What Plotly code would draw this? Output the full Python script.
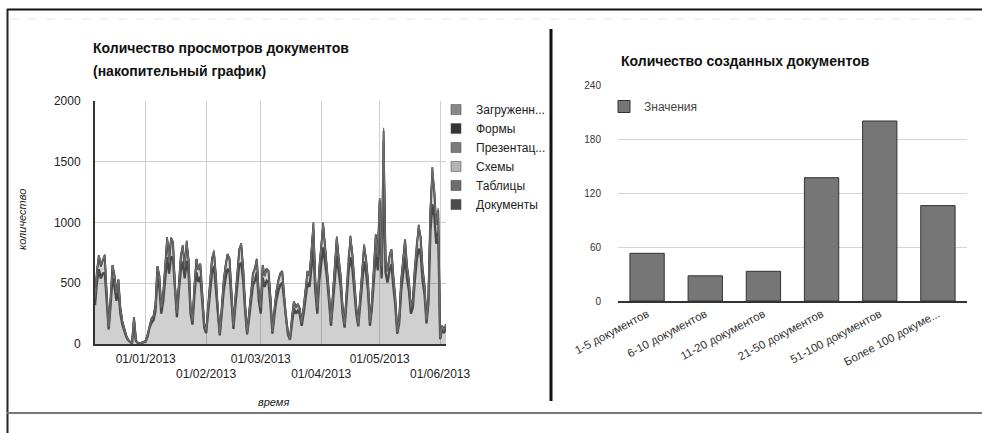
import pandas as pd
import plotly.graph_objects as go

# ---------------- data: daily document views (stacked by type) ----------------
start_day = "2012-12-06"
end_day = "2013-06-04"

docs = [
    # Dec 2012 (6..31)
    320, 505, 615, 540, 580, 585, 355, 120, 320, 545, 470, 355, 445, 250, 160, 100,
    60, 30, 15, 5, 185, 25, 8, 5, 10, 15,
    # Jan 2013
    20, 65, 135, 175, 195, 270, 540, 470, 250, 355, 540, 715, 580, 720, 705, 405,
    220, 435, 605, 680, 540, 685, 580, 250, 160, 405, 590, 510, 555, 355, 135,
    # Feb 2013
    90, 250, 470, 590, 640, 470, 235, 70, 250, 435, 545, 620, 590, 355, 125, 320,
    505, 655, 665, 520, 270, 80, 210, 360, 485, 520, 590, 355,
    # Mar 2013
    250, 545, 470, 520, 505, 320, 85, 235, 360, 435, 485, 505, 355, 170, 75, 35,
    185, 295, 250, 275, 245, 150, 250, 405, 505, 470, 640, 780, 435, 250, 520,
    # Apr 2013
    690, 795, 670, 540, 355, 150, 335, 570, 730, 590, 470, 250, 135, 355, 590, 715,
    620, 435, 250, 145, 335, 545, 680, 590, 435, 150, 295, 520, 755, 605,
    # May 2013
    990, 540, 1390, 590, 505, 605, 655, 470, 320, 85, 170, 435, 590, 720, 540, 435,
    250, 300, 520, 690, 785, 740, 520, 405, 170, 335, 925, 1150, 1050, 825, 925,
    # Jun 2013 (1..4)
    40, 125, 90, 135,
]

tables = [
    # Dec 2012
    60, 95, 115, 100, 110, 120, 65, 20, 60, 105, 90, 65, 85, 50, 30, 20,
    10, 5, 0, 0, 35, 5, 0, 0, 0, 0,
    # Jan 2013
    5, 15, 25, 35, 35, 50, 100, 90, 50, 65, 100, 140, 110, 140, 135, 75,
    40, 85, 115, 130, 100, 135, 110, 50, 30, 75, 110, 100, 105, 65, 25,
    # Feb 2013
    20, 50, 90, 110, 120, 90, 45, 15, 50, 85, 105, 120, 110, 65, 25, 60,
    95, 125, 135, 100, 50, 15, 40, 70, 95, 100, 110, 65,
    # Mar 2013
    50, 105, 90, 100, 95, 60, 15, 45, 70, 85, 95, 95, 65, 30, 15, 5,
    35, 55, 50, 55, 45, 30, 50, 75, 95, 90, 120, 160, 85, 50, 100,
    # Apr 2013
    130, 160, 130, 100, 65, 30, 65, 110, 140, 110, 90, 50, 25, 65, 110, 140,
    120, 85, 50, 25, 65, 105, 130, 110, 85, 30, 55, 100, 145, 115,
    # May 2013
    190, 100, 275, 110, 95, 115, 125, 90, 60, 15, 30, 85, 110, 140, 100, 85,
    50, 60, 100, 130, 155, 140, 100, 75, 30, 65, 175, 230, 200, 155, 175,
    # Jun 2013
    10, 25, 20, 25,
]

# smaller document types: views only on a few days
schemes = {"2013-01-14": 15, "2013-03-28": 20, "2013-05-03": 30, "2013-05-28": 25}
presentations = {
    "2012-12-11": 30, "2013-01-12": 25, "2013-01-22": 30, "2013-02-19": 30,
    "2013-03-28": 40, "2013-04-02": 45, "2013-04-16": 35, "2013-05-03": 60,
    "2013-05-21": 40, "2013-05-28": 50,
}
forms = {"2013-04-09": 15, "2013-05-01": 20, "2013-05-29": 20}
uploads = {
    "2012-12-09": 10, "2013-02-05": 15, "2013-04-23": 15,
    "2013-05-03": 25, "2013-05-31": 20,
}

# ---------------- data: created documents by size ----------------
size_groups = ["1-5 документов", "6-10 документов", "11-20 документов",
               "21-50 документов", "51-100 документов", "Более 100 докуме..."]
created = [53, 28, 33, 137, 200, 106]

month_ticks = ["2013-01-01", "2013-02-01", "2013-03-01",
               "2013-04-01", "2013-05-01", "2013-06-01"]
month_labels = ["01/01/2013", "01/02/2013", "01/03/2013",
                "01/04/2013", "01/05/2013", "01/06/2013"]

# ---------------- figure ----------------
W, H = 982, 433
FONT = "Liberation Sans, Arial, sans-serif"


def px_x(p):
    return p / W


def px_y(p):
    return 1 - p / H


days = pd.date_range(start_day, end_day, freq="D")
day_keys = [d.strftime("%Y-%m-%d") for d in days]

# stacked series, bottom to top
stack = [
    ("Документы", docs, "#484848", 2.3),
    ("Таблицы", tables, "#626262", 2.0),
    ("Схемы", [schemes.get(k, 0) for k in day_keys], "#b4b4b4", 1.2),
    ("Презентац...", [presentations.get(k, 0) for k in day_keys], "#767676", 1.4),
    ("Формы", [forms.get(k, 0) for k in day_keys], "#353535", 1.6),
    ("Загруженн...", [uploads.get(k, 0) for k in day_keys], "#707070", 1.2),
]

fig = go.Figure()

for name, vals, color, lw in stack:
    r, g, b = (int(color[i:i + 2], 16) for i in (1, 3, 5))
    fig.add_trace(go.Scatter(
        x=days, y=vals, name=name, mode="lines",
        stackgroup="views",
        line=dict(color=color, width=lw),
        fillcolor=f"rgba({r},{g},{b},0.26)",
        showlegend=False, hoverinfo="skip",
        xaxis="x", yaxis="y",
    ))

legend_colors = {
    "Загруженн...": "#8a8a8a", "Формы": "#353535", "Презентац...": "#7a7a7a",
    "Схемы": "#b4b4b4", "Таблицы": "#6c6c6c", "Документы": "#4c4c4c",
}

# legend entries for the stacked chart (top of stack first);
# they live on the second date axis that carries the lower row of month labels
for name, vals, color, lw in reversed(stack):
    fig.add_trace(go.Scatter(
        x=[None], y=[None], mode="markers", name=name,
        marker=dict(symbol="square", size=10, color=legend_colors[name],
                    line=dict(color="#555", width=0.6)),
        legend="legend", xaxis="x3", yaxis="y",
    ))

fig.add_trace(go.Bar(
    x=size_groups, y=created, name="Значения",
    marker=dict(color="#767676", line=dict(color="#333333", width=1)),
    xaxis="x2", yaxis="y2", legend="legend2",
))

tick_font = dict(family=FONT, size=12, color="#222")

fig.update_layout(
    width=W, height=H,
    margin=dict(l=0, r=0, t=0, b=0, pad=0, autoexpand=False),
    paper_bgcolor="white", plot_bgcolor="white",
    font=dict(family=FONT, color="#222"),
    bargap=0.41,
    xaxis=dict(
        domain=[px_x(95), px_x(446)], anchor="y", type="date",
        range=[start_day, end_day],
        tickvals=month_ticks,
        ticktext=[month_labels[0], "", month_labels[2], "", month_labels[4], ""],
        ticklabelstandoff=3,
        showgrid=True, gridcolor="#cfcfcf", gridwidth=1,
        showline=True, linecolor="#333", linewidth=2,
        ticks="", tickfont=tick_font, zeroline=False,
    ),
    xaxis3=dict(
        overlaying="x", anchor="y", type="date", side="bottom",
        range=[start_day, end_day],
        tickvals=month_ticks,
        ticktext=["", month_labels[1], "", month_labels[3], "", month_labels[5]],
        ticklabelstandoff=21,
        showgrid=False, showline=False, ticks="", zeroline=False,
        tickfont=tick_font,
    ),
    yaxis=dict(
        domain=[px_y(344), px_y(101)], anchor="x",
        range=[0, 2000], tickvals=[0, 500, 1000, 1500, 2000],
        showgrid=True, gridcolor="#cfcfcf", gridwidth=1,
        showline=True, linecolor="#333", linewidth=2,
        ticks="", ticklabelstandoff=10, tickfont=tick_font, zeroline=False,
    ),
    xaxis2=dict(
        domain=[px_x(618), px_x(967)], anchor="y2", type="category",
        showline=True, linecolor="#333", linewidth=2,
        showgrid=False, ticks="", tickangle=-28,
        tickfont=dict(family=FONT, size=11.5, color="#333"),
    ),
    yaxis2=dict(
        domain=[px_y(301), px_y(85)], anchor="x2",
        range=[0, 240], tickvals=[0, 60, 120, 180, 240],
        showgrid=True, gridcolor="#d4d4d4", gridwidth=1,
        showline=False, zeroline=False, ticks="", ticklabelstandoff=16,
        tickfont=dict(family=FONT, size=10, color="#333"),
    ),
    legend=dict(
        x=px_x(436), y=px_y(95), xanchor="left", yanchor="top",
        traceorder="normal",
        font=dict(family=FONT, size=12, color="#222"),
        bgcolor="rgba(0,0,0,0)", itemclick=False, itemdoubleclick=False,
        tracegroupgap=0, itemwidth=30,
    ),
    legend2=dict(
        x=px_x(604), y=px_y(92), xanchor="left", yanchor="top",
        font=dict(family=FONT, size=12, color="#444"),
        bgcolor="rgba(0,0,0,0)",
    ),
    annotations=[
        dict(text="<b>Количество просмотров документов</b>", x=px_x(91), y=px_y(48),
             xref="paper", yref="paper", xanchor="left", yanchor="middle",
             showarrow=False, font=dict(family=FONT, size=14, color="#111")),
        dict(text="<b>(накопительный график)</b>", x=px_x(91), y=px_y(71),
             xref="paper", yref="paper", xanchor="left", yanchor="middle",
             showarrow=False, font=dict(family=FONT, size=14, color="#111")),
        dict(text="<b>Количество созданных документов</b>", x=px_x(619), y=px_y(61),
             xref="paper", yref="paper", xanchor="left", yanchor="middle",
             showarrow=False, font=dict(family=FONT, size=14, color="#111")),
        dict(text="<i>количество</i>", x=px_x(22), y=px_y(220), textangle=-90,
             xref="paper", yref="paper", xanchor="center", yanchor="middle",
             showarrow=False, font=dict(family=FONT, size=11, color="#222")),
        dict(text="<i>время</i>", x=px_x(273), y=px_y(402),
             xref="paper", yref="paper", xanchor="center", yanchor="middle",
             showarrow=False, font=dict(family=FONT, size=11, color="#222")),
    ],
    shapes=[
        # page frame
        dict(type="line", xref="paper", yref="paper", x0=px_x(7), x1=1,
             y0=px_y(9.5), y1=px_y(9.5), line=dict(color="#111", width=2)),
        dict(type="line", xref="paper", yref="paper", x0=px_x(7.5), x1=px_x(7.5),
             y0=px_y(9), y1=0, line=dict(color="#222", width=2)),
        dict(type="line", xref="paper", yref="paper", x0=px_x(7), x1=1,
             y0=px_y(413), y1=px_y(413), line=dict(color="#777", width=2)),
        dict(type="line", xref="paper", yref="paper", x0=px_x(10), x1=1,
             y0=px_y(19), y1=px_y(19), line=dict(color="#e6e6e6", width=1, dash="dash")),
        # divider between the two panels
        dict(type="line", xref="paper", yref="paper", x0=px_x(551), x1=px_x(551),
             y0=px_y(29), y1=px_y(401), line=dict(color="#111", width=3)),
    ],
)

fig.write_html("out.html")
